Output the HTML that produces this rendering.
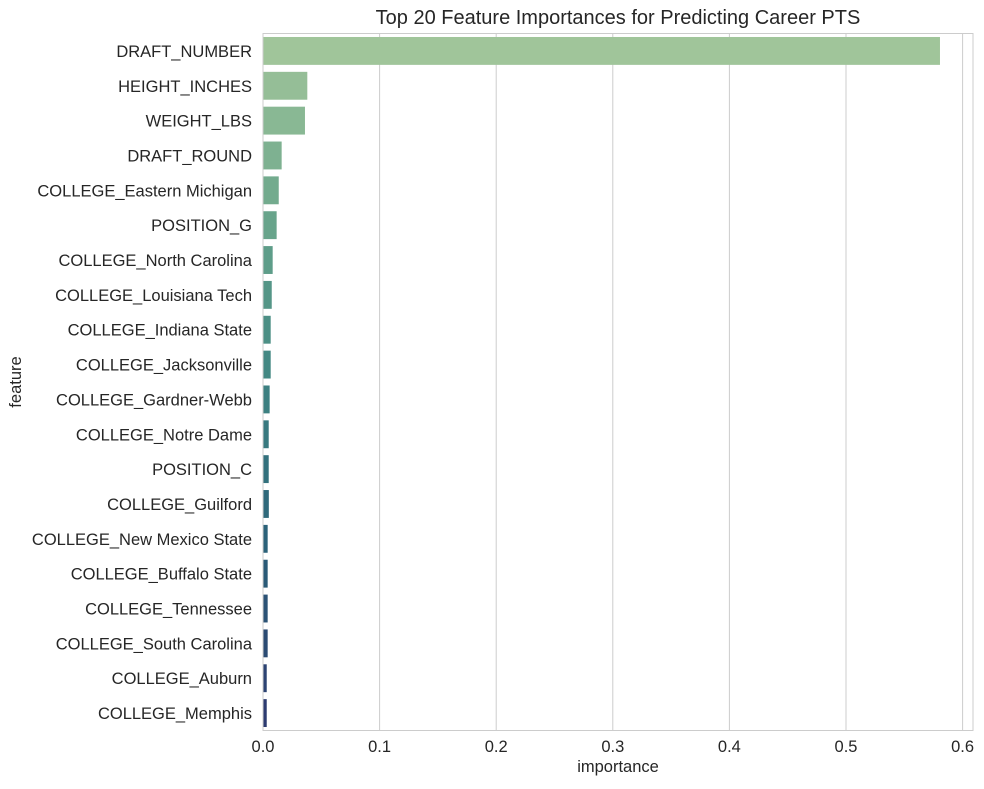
<!DOCTYPE html>
<html><head><meta charset="utf-8"><style>
body{margin:0;background:#fff;font-family:"Liberation Sans",Arial,sans-serif;}
svg text{fill:#262626;font-family:"Liberation Sans",Arial,sans-serif;}
</style></head><body>
<svg id="chart" width="984" height="784" xmlns="http://www.w3.org/2000/svg">
<rect width="984" height="784" fill="#fff"/>
<g id="grid"></g><g id="bars"></g><g id="ylabels"></g><g id="xlabels"></g>
<rect x="263" y="33.5" width="710" height="697" fill="none" stroke="#cccccc" stroke-width="1"/>
<text x="618" y="24" text-anchor="middle" font-size="20">Top 20 Feature Importances for Predicting Career PTS</text>
<text x="618" y="772" text-anchor="middle" font-size="16.5">importance</text>
<text transform="translate(21,382) rotate(-90)" text-anchor="middle" font-size="16.5">feature</text>
</svg>
<script>
const features=["DRAFT_NUMBER","HEIGHT_INCHES","WEIGHT_LBS","DRAFT_ROUND","COLLEGE_Eastern Michigan","POSITION_G","COLLEGE_North Carolina","COLLEGE_Louisiana Tech","COLLEGE_Indiana State","COLLEGE_Jacksonville","COLLEGE_Gardner-Webb","COLLEGE_Notre Dame","POSITION_C","COLLEGE_Guilford","COLLEGE_New Mexico State","COLLEGE_Buffalo State","COLLEGE_Tennessee","COLLEGE_South Carolina","COLLEGE_Auburn","COLLEGE_Memphis"];
const importances=[0.5806,0.038,0.036,0.016,0.0135,0.0117,0.0083,0.0075,0.0066,0.0066,0.0057,0.0049,0.0049,0.005,0.004,0.004,0.004,0.004,0.0032,0.0032];
const xTicks=[0,0.1,0.2,0.3,0.4,0.5,0.6];
const xTickLabels=["0.0","0.1","0.2","0.3","0.4","0.5","0.6"];
const NS="http://www.w3.org/2000/svg";
const x0=263,pxPer=1166,plotTop=33.5,plotBottom=730.5;
const xs=v=>x0+v*pxPer;
const band=(plotBottom-plotTop)/features.length;
const yc=i=>plotTop+band*(i+0.5);
const stops=[[0,[160,197,154]],[0.25,[106,166,140]],[0.5,[62,132,130]],[0.75,[42,96,120]],[1,[44,59,112]]];
function col(t){for(let k=0;k<stops.length-1;k++){const a=stops[k][0],ca=stops[k][1],b=stops[k+1][0],cb=stops[k+1][1];if(t<=b+1e-9){const f=(t-a)/(b-a);return"rgb("+ca.map((c,j)=>Math.round(c+(cb[j]-c)*f)).join(",")+")";}}return "rgb(44,59,112)";}
function mk(tag,attrs,parent){const e=document.createElementNS(NS,tag);for(const k in attrs)e.setAttribute(k,attrs[k]);parent.appendChild(e);return e;}
const g=document.getElementById("grid"),bg=document.getElementById("bars"),yl=document.getElementById("ylabels"),xl=document.getElementById("xlabels");
xTicks.forEach((t,i)=>{
 const l=mk("line",{x1:xs(t),x2:xs(t),y1:plotTop,y2:plotBottom,stroke:"#cccccc","stroke-width":1},g);
 
 
 const tx=mk("text",{x:xs(t),y:752,"text-anchor":"middle","font-size":"16.5"},xl);
 tx.textContent=xTickLabels[i];
 
 
});
features.forEach((f,i)=>{
 const h=band*0.8;
 const r=mk("rect",{x:x0,y:yc(i)-h/2,width:xs(importances[i])-x0,height:h,fill:col(i/(features.length-1))},bg);
 
 
 const tx=mk("text",{x:252,y:yc(i)+6,"text-anchor":"end","font-size":"16.5"},yl);
 tx.textContent=f;
 
 
});
</script>
</body></html>
